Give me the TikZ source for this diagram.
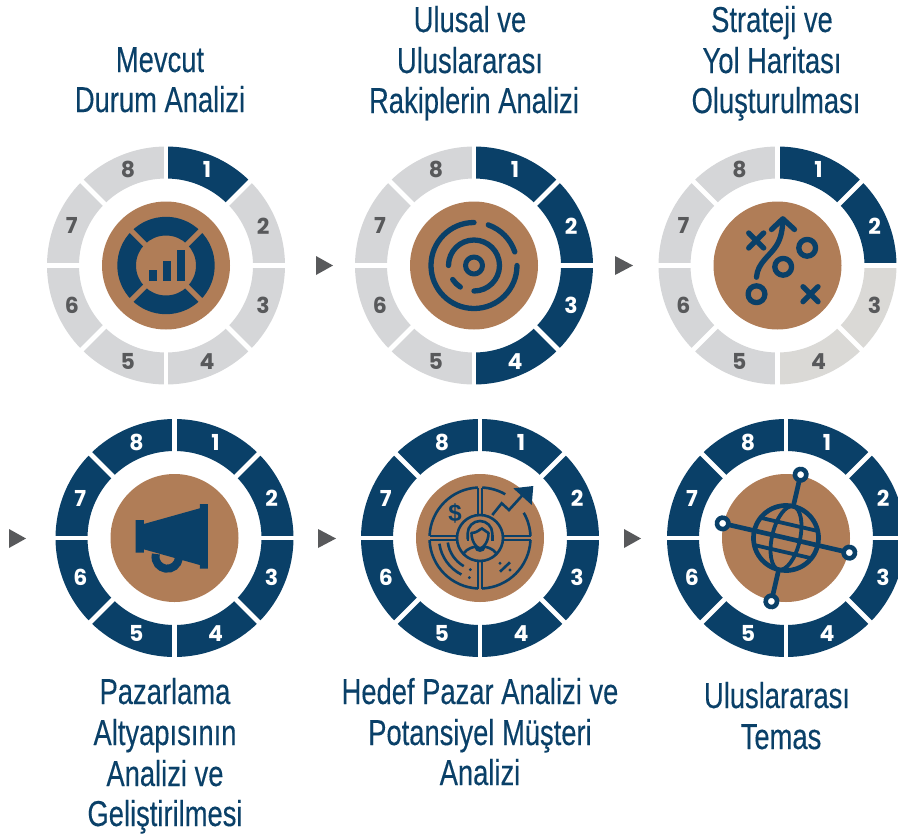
\documentclass[tikz,border=0pt]{standalone}
\usepackage{fontspec}
\setmainfont{Liberation Sans}
\newfontfamily\headfont[FakeStretch=0.76,FakeBold=0.25]{Liberation Sans}
\newfontfamily\digitfont{Poppins}
\definecolor{navy}{HTML}{0A4068}
\definecolor{segblue}{HTML}{0A4068}
\definecolor{seggrey}{HTML}{D5D6D8}
\definecolor{segwarm}{HTML}{DAD9D6}
\definecolor{copper}{HTML}{B07D57}
\definecolor{digitgrey}{HTML}{58595B}
\tikzset{
  headline/.style={anchor=base,inner sep=0pt,text=navy,font=\headfont\fontsize{36}{36}\selectfont},
  digit/.style={inner sep=0pt,xshift=1.5pt,font=\digitfont\bfseries\fontsize{22}{22}\selectfont},
  pointer/.style={fill=digitgrey},
  iconthick/.style={draw=navy,line width=5.3pt,line cap=round,line join=round},
  iconthin/.style={draw=navy,line width=2.6pt,line cap=butt,line join=miter},
  iconfill/.style={fill=navy}
}
\newcommand{\ringat}[4]{%
  \begin{scope}[shift={(#2,#3)}]
    \foreach \c/\t [count=\k] in {#4}{
      \pgfmathsetmacro\angA{-90+45*(\k-1)}
      \pgfmathsetmacro\angB{\angA+45}
      \pgfmathsetmacro\angM{\angA+22.5}
      \fill[\c] (\angA:119) arc (\angA:\angB:119) -- (\angB:87) arc (\angB:\angA:87) -- cycle;
      \node[digit,text=\t] (#1-\k) at (\angM:103.5) {\k};
    }
    \foreach \g in {0,45,...,315}{
      \draw[white,line width=4.7pt] (\g:84) -- (\g:122);
    }
    \fill[copper] (0,0) circle (64);
  \end{scope}}
\newcommand{\iconO}[2]{\draw[iconthick] (#1,#2) circle (8.4);}
\newcommand{\iconX}[2]{\draw[iconthick] (#1-7.5,#2-7.5) -- (#1+7.5,#2+7.5) (#1-7.5,#2+7.5) -- (#1+7.5,#2-7.5);}
\begin{document}
\begin{tikzpicture}[x=1pt,y=1pt,yscale=-1]
\useasboundingbox (0,0) rectangle (898,836);
\begin{scope}
\clip (0,0) rectangle (898,836);
\ringat{a}{166}{265.5}{segblue/white,seggrey/digitgrey,seggrey/digitgrey,seggrey/digitgrey,seggrey/digitgrey,seggrey/digitgrey,seggrey/digitgrey,seggrey/digitgrey}
\ringat{b}{474}{265.5}{segblue/white,segblue/white,segblue/white,segblue/white,seggrey/digitgrey,seggrey/digitgrey,seggrey/digitgrey,seggrey/digitgrey}
\ringat{c}{777.5}{265.5}{segblue/white,segblue/white,segwarm/digitgrey,segwarm/digitgrey,seggrey/digitgrey,seggrey/digitgrey,seggrey/digitgrey,seggrey/digitgrey}
\ringat{d}{174.5}{538}{segblue/white,segblue/white,segblue/white,segblue/white,segblue/white,segblue/white,segblue/white,segblue/white}
\ringat{e}{480}{538}{segblue/white,segblue/white,segblue/white,segblue/white,segblue/white,segblue/white,segblue/white,segblue/white}
\ringat{f}{786}{538}{segblue/white,segblue/white,segblue/white,segblue/white,segblue/white,segblue/white,segblue/white,segblue/white}

% icon 1: lifebuoy with bars
\begin{scope}[shift={(166,265.5)}]
  \fill[iconfill,even odd rule] (0,0) circle (48.7) (0,0) circle (30);
  \foreach \g in {45,135,225,315}{\draw[copper,line width=5pt] (\g:28) -- (\g:51);}
  \fill[iconfill] (-17,4.7) rectangle (-9.3,15.7);
  \fill[iconfill] (-3.3,-4.3) rectangle (4.7,15.7);
  \fill[iconfill] (11,-15.3) rectangle (19,15.7);
\end{scope}

% icon 2: maze
\begin{scope}[shift={(474,265.5)}]
  \draw[iconthick] (-90:43) arc (-90:-360:43);
  \draw[iconthick] (-70.7:43) arc (-70.7:-18.4:43);
  \draw[iconthick] (180:25.5) arc (180:450:25.5);
  \draw[iconthick] (146.7:25.5) arc (146.7:122.5:25.5);
  \draw[iconthick,line width=5pt] (0,0) circle (8.5);
\end{scope}

% icon 3: play plan
\begin{scope}[shift={(777.5,265.5)}]
  \iconX{-21.3}{-25}
  \iconX{33}{28.7}
  \iconO{29.7}{-17.7}
  \iconO{5.7}{1.3}
  \iconO{-21}{28.7}
  \draw[iconthick] (-21,11.7) .. controls (-20,-3) and (-7,-10) .. (-1,-20) .. controls (4,-28) and (5,-37) .. (5.3,-45);
  \draw[iconthick] (-6,-36) -- (5.3,-46.7) -- (17,-36);
\end{scope}

% icon 4: megaphone
\begin{scope}[shift={(174.5,538)}]
  \draw[navy,line width=8pt] (-7.3,19) ++(-15:11.7) arc (-15:195:11.7);
  \fill[iconfill] (-39,-18) -- (-30.7,-18) -- (-30.7,-14) -- (25.3,-29.7) -- (25.3,-34) -- (33.3,-34) -- (33.3,30.7) -- (25.3,30.7) -- (25.3,27) -- (-30.7,11.3) -- (-30.7,14.7) -- (-39,14.7) -- cycle;
\end{scope}

% icon 5: target customer
\begin{scope}[shift={(480,538)}]
  \draw[iconthin] (0,0) circle (23);
  \draw[iconthin] (-87.5:50.5) arc (-87.5:-60:50.5);
  \draw[iconthin] (-30:50.5) arc (-30:-2.4:50.5);
  \draw[iconthin] (2.4:50.5) arc (2.4:87.6:50.5);
  \draw[iconthin] (92.4:50.5) arc (92.4:177.6:50.5);
  \draw[iconthin] (182.4:50.5) arc (182.4:267.6:50.5);
  \foreach \sx in {-2.1,2.1}{
    \draw[iconthin] (\sx,-50.5) -- (\sx,-22.9);
    \draw[iconthin] (\sx,22.9) -- (\sx,50.5);
    \draw[iconthin] (-50.5,\sx) -- (-22.9,\sx);
    \draw[iconthin] (22.9,\sx) -- (50.5,\sx);
  }
  \draw[iconthin] (172:41) arc (172:117:41);
  \draw[iconthin] (172:32.5) arc (172:120:32.5);
  \fill[iconfill] (105:41) circle (1.6) (107:33) circle (1.6);
  \draw[iconthin] (20,33.7) -- (30,24.3);
  \fill[iconfill] (20,25.3) circle (1.6) (30,32) circle (1.6);
  \draw[iconthin] (12.3,-23) -- (21.7,-34.7) -- (29,-28) -- (43.3,-43.7);
  \fill[iconfill] (33.3,-49.7) -- (53.3,-52) -- (51.7,-33) -- cycle;
  \node[inner sep=0pt,text=navy,font=\bfseries\fontsize{24}{24}\selectfont] (dollar) at (-25,-25) {\$};
  \begin{scope}
    \clip (0,0) circle (23);
    \draw[iconthin,line cap=round] (-12.3,1) -- (-12.3,-4.7) arc (180:360:12.3) -- (12.3,1);
    \draw[iconthin,line cap=round] (-8.5,-5) .. controls (-3,-5) and (0,-9) .. (2,-9.5) .. controls (4,-8) and (7,-6) .. (8.5,-5);
    \draw[iconthin,line cap=round] (-8.5,-5) .. controls (-8.5,3) and (-4,10) .. (0,10.3) .. controls (4,10) and (8.5,3) .. (8.5,-5);
    \draw[iconthin] (-18,20) .. controls (-17,13) and (-11,10) .. (-4.5,8.5) .. controls (-4,14) and (4,14) .. (4.5,8.5) .. controls (11,10) and (17,13) .. (18,20);
  \end{scope}
  \fill[iconfill] (-13.5,-3) rectangle (-11,3);
  \fill[iconfill] (11,-3) rectangle (13.5,3);
\end{scope}

% icon 6: globe network
\begin{scope}[shift={(786,538)},rotate=13]
  \draw[navy,line width=4.7pt] (0,-65) -- (0,-32) (0,32) -- (0,65) (-65,0) -- (65,0);
  \draw[navy,line width=4.7pt] (0,0) circle (32.5);
  \draw[navy,line width=3.8pt] (0,0) ellipse (14 and 32.5);
  \draw[navy,line width=3.8pt] (-29.5,-14) -- (29.5,-14) (-29.5,14) -- (29.5,14);
  \foreach \p in {0,90,180,270}{
    \draw[navy,line width=4.6pt,fill=white] (\p:65) circle (5.7);
  }
\end{scope}
\end{scope}

% pointers
\fill[pointer] (316,256) -- (333,265.5) -- (316,275) -- cycle;
\fill[pointer] (615,256) -- (633,265.5) -- (615,275) -- cycle;
\fill[pointer] (9,529) -- (26,538.5) -- (9,548) -- cycle;
\fill[pointer] (318,529) -- (336,538.5) -- (318,548) -- cycle;
\fill[pointer] (624,529) -- (641,538.5) -- (624,548) -- cycle;

% headings
\node[headline] (t1a) at (160,72) {Mevcut};
\node[headline] (t1b) at (160,112) {Durum Analizi};
\node[headline] (t2a) at (470,32) {Ulusal ve};
\node[headline] (t2b) at (470,73) {Uluslararası};
\node[headline] (t2c) at (474,113) {Rakiplerin Analizi};
\node[headline] (t3a) at (772,32) {Strateji ve};
\node[headline] (t3b) at (772,73) {Yol Haritası};
\node[headline] (t3c) at (776,113) {Oluşturulması};
\node[headline] (t4a) at (165,704) {Pazarlama};
\node[headline] (t4b) at (165,745) {Altyapısının};
\node[headline] (t4c) at (165,786) {Analizi ve};
\node[headline] (t4d) at (165,826) {Geliştirilmesi};
\node[headline] (t5a) at (480,704) {Hedef Pazar Analizi ve};
\node[headline] (t5b) at (480,745) {Potansiyel Müşteri};
\node[headline] (t5c) at (480,785) {Analizi};
\node[headline] (t6a) at (777,708) {Uluslararası};
\node[headline] (t6b) at (781,749) {Temas};
\end{tikzpicture}
\end{document}
